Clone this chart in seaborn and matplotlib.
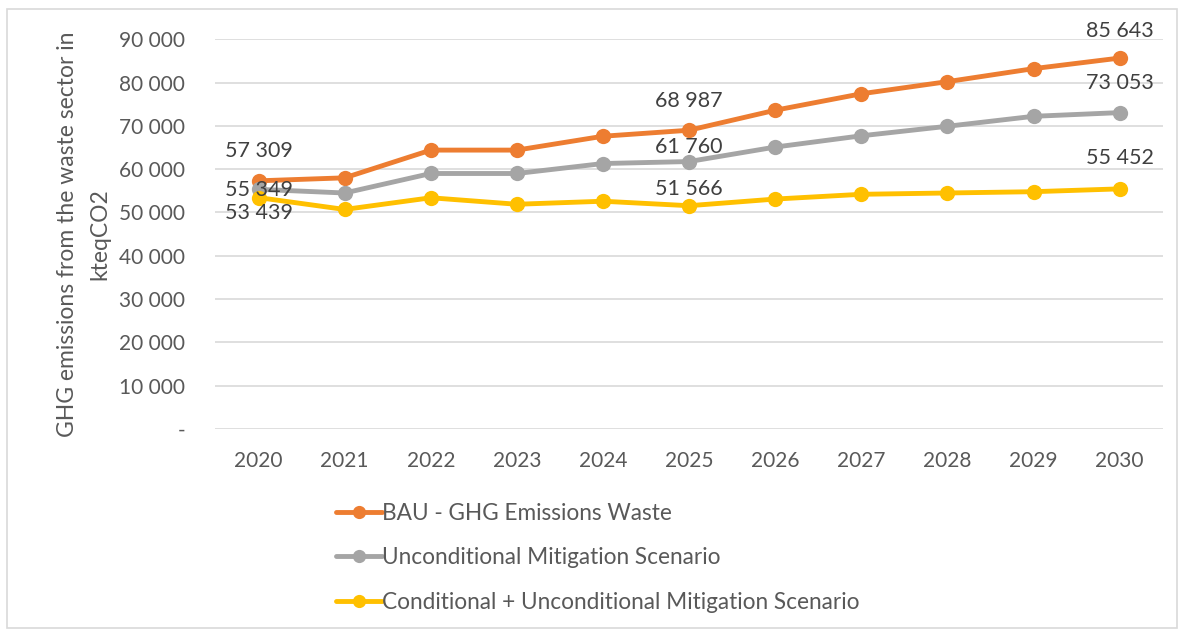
import numpy as np
import pandas as pd
import seaborn as sns
import matplotlib.pyplot as plt
from matplotlib.patches import Rectangle
from matplotlib.ticker import FuncFormatter

years = [2020, 2021, 2022, 2023, 2024, 2025, 2026, 2027, 2028, 2029, 2030]
bau = [57309, 58000, 64400, 64400, 67600, 68987, 73600, 77400, 80200, 83200, 85643]
uncond = [55349, 54500, 59000, 59000, 61300, 61760, 65100, 67700, 69900, 72200, 73053]
cond = [53439, 50700, 53400, 51900, 52600, 51566, 53100, 54200, 54500, 54800, 55452]
names = ['BAU - GHG Emissions Waste', 'Unconditional Mitigation Scenario',
         'Conditional + Unconditional Mitigation Scenario']
colors = ['#ED7D31', '#A5A5A5', '#FFC000']
label_years = [2020, 2025, 2030]

df = pd.DataFrame({'year': years * 3,
                   'value': bau + uncond + cond,
                   'series': [names[0]] * 11 + [names[1]] * 11 + [names[2]] * 11})

sns.set_style('white')
plt.rcParams['font.family'] = ['Lato', 'DejaVu Sans']

fig = plt.figure(figsize=(11.84, 6.32), dpi=100)
ax = fig.add_axes([0.182, 0.321, 0.8, 0.617])
sns.lineplot(data=df, x='year', y='value', hue='series', palette=colors,
             marker='o', markersize=11, markeredgewidth=0, linewidth=3.5, ax=ax)

ax.set_ylim(0, 90000)
ax.set_xlim(2019.5, 2030.5)
ax.set_yticks(np.arange(0, 90001, 10000))
ax.set_xticks(years)
ax.yaxis.set_major_formatter(FuncFormatter(
    lambda v, p: '-' if v == 0 else f'{int(v):,}'.replace(',', ' ')))
ax.grid(axis='y', color='#D9D9D9', linewidth=1.2)
ax.set_axisbelow(True)
for s in ax.spines.values():
    s.set_visible(False)
ax.tick_params(axis='both', length=0, labelsize=15, labelcolor='#595959')
ax.tick_params(axis='y', pad=22)
ax.tick_params(axis='x', pad=16)
ax.set_xlabel('')
ax.set_ylabel('GHG emissions from the waste sector in\nkteqCO2', fontsize=16.5,
              color='#595959', labelpad=6, linespacing=1.7)

# data labels
series_vals = [bau, uncond, cond]
offsets = {
    (0, 2020): 14, (1, 2020): -8, (2, 2020): -18,
    (0, 2025): 14, (1, 2025): 3, (2, 2025): 5,
    (0, 2030): 12, (1, 2030): 14, (2, 2030): 15,
}
for i, vals in enumerate(series_vals):
    for yr in label_years:
        v = vals[years.index(yr)]
        ax.annotate(f'{v:,}'.replace(',', ' '), (yr, v), xytext=(0, offsets[(i, yr)]),
                    textcoords='offset points', ha='center', va='bottom',
                    fontsize=15.5, color='#404040')

handles, labels = ax.get_legend_handles_labels()
for h in handles:
    h.set_markersize(9.5)
leg = ax.legend(handles, labels, loc='upper left', bbox_to_anchor=(0.118, -0.165),
                frameon=False, fontsize=16.3, labelspacing=1.05, handlelength=2.0,
                handletextpad=0.0, borderaxespad=0)
for t in leg.get_texts():
    t.set_color('#595959')

fig.patches.append(Rectangle((0.006, 0.006), 0.988, 0.98, transform=fig.transFigure,
                             fill=False, edgecolor='#D9D9D9', linewidth=1.2))

fig.savefig('out.png', dpi=100)
